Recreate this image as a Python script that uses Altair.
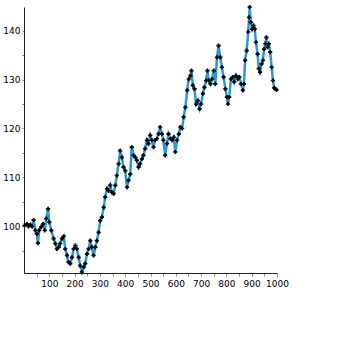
import altair as alt
import pandas as pd

xs = [2, 12, 18, 25, 32, 38, 45, 51, 55, 60, 68, 75, 82, 88, 95, 100, 108, 117, 124, 130,
      137, 143, 150, 157, 163, 170, 176, 183, 190, 196, 203, 209, 216, 222, 229, 236, 242, 249, 255, 262,
      268, 275, 282, 288, 295, 301, 308, 315, 321, 328, 334, 341, 347, 354, 361, 367, 374, 380, 387, 393,
      400, 407, 413, 420, 426, 433, 440, 446, 453, 459, 466, 472, 479, 486, 492, 499, 505, 512, 518, 525,
      532, 538, 545, 551, 558, 565, 571, 579, 585, 592, 598, 605, 612, 618, 625, 631, 638, 645, 651, 658,
      662, 667, 674, 680, 687, 694, 700, 707, 713, 720, 725, 730, 737, 743, 750, 756, 763, 769, 776, 782,
      789, 796, 802, 806, 811, 818, 825, 831, 838, 845, 851, 858, 865, 869, 874, 880, 886, 890, 892, 896,
      902, 907, 912, 917, 923, 928, 933, 939, 944, 949, 954, 958, 963, 968, 973, 979, 984, 989, 993, 998]

ys = [100.2, 100.5, 100.0, 100.4, 100.0, 101.3, 99.2, 98.5, 96.6, 99.2, 99.9, 100.5, 99.2, 101.6, 103.6, 100.9, 99.2, 97.5, 96.5, 95.4,
      95.8, 96.5, 97.5, 98.0, 95.4, 94.1, 92.7, 92.4, 93.7, 95.4, 96.1, 95.4, 93.7, 92.0, 90.7, 91.7, 92.4, 94.4, 95.4, 97.1,
      95.8, 94.1, 95.8, 97.1, 98.8, 101.2, 101.9, 103.9, 106.0, 107.7, 107.3, 108.4, 107.0, 106.7, 108.4, 110.4, 112.8, 115.5, 114.1, 112.1,
      111.4, 108.0, 109.4, 110.7, 116.2, 114.5, 114.1, 113.5, 112.1, 112.8, 113.8, 114.5, 115.9, 117.6, 116.9, 118.6, 117.6, 116.2, 117.6, 117.9,
      118.9, 120.3, 118.9, 117.6, 114.5, 116.9, 118.9, 117.9, 117.6, 118.2, 115.2, 117.6, 118.9, 120.3, 120.0, 122.3, 124.3, 127.8, 130.1, 130.8,
      131.8, 128.8, 128.1, 125.0, 125.7, 124.0, 125.0, 127.1, 128.4, 129.8, 131.8, 129.8, 129.1, 130.1, 131.8, 129.1, 134.5, 136.9, 134.5, 132.5,
      130.5, 128.1, 126.4, 125.0, 126.4, 130.1, 130.5, 129.5, 130.8, 130.1, 130.5, 129.1, 127.8, 129.1, 133.9, 135.9, 139.7, 142.7, 144.8, 141.7,
      140.3, 141.0, 140.3, 137.6, 135.2, 132.2, 131.5, 133.2, 133.9, 136.2, 137.3, 138.6, 136.6, 137.3, 135.6, 132.5, 129.8, 128.3, 128.1, 127.9]

y_ticks = [95, 100, 105, 110, 115, 120, 125, 130, 135, 140]
x_ticks = [50, 100, 150, 200, 250, 300, 350, 400, 450, 500, 550, 600, 650, 700, 750, 800, 850, 900, 950, 1000]

df = pd.DataFrame({"x": xs, "y": ys})

chart = alt.Chart(df).mark_line(
    color="#2a98d2",
    strokeWidth=2.5,
    point=alt.OverlayMarkDef(color="black", filled=True, shape="cross", size=18),
).encode(
    x=alt.X("x:Q", scale=alt.Scale(domain=[0, 1000], nice=False, zero=False),
            axis=alt.Axis(values=x_ticks, title=None, grid=False,
                          labelExpr="datum.value % 100 == 0 ? datum.label : ''",
                          labelOverlap=False, labelFlush=False, labelBound=False,
                          tickSize=3, labelPadding=3, domainColor="#222222",
                          tickColor="#888888", labelFont="DejaVu Sans",
                          labelFontSize=9, labelColor="black", format="d")),
    y=alt.Y("y:Q", scale=alt.Scale(domain=[90.5, 144.8], nice=False, zero=False),
            axis=alt.Axis(values=y_ticks, title=None, grid=False,
                          labelExpr="datum.value % 10 == 0 ? datum.label : ''",
                          labelOverlap=False, labelFlush=False, labelBound=False,
                          tickSize=2, labelPadding=2, domainColor="#222222",
                          tickColor="#888888", labelFont="DejaVu Sans",
                          labelFontSize=9, labelColor="black", format="d")),
).properties(
    width=253,
    height=266,
    autosize=alt.AutoSizeParams(type="none"),
    padding={"left": 24, "top": 7, "right": 82, "bottom": 86},
).configure_view(strokeWidth=0)

chart.save("out.html", embed_options={"renderer": "svg", "actions": False})
